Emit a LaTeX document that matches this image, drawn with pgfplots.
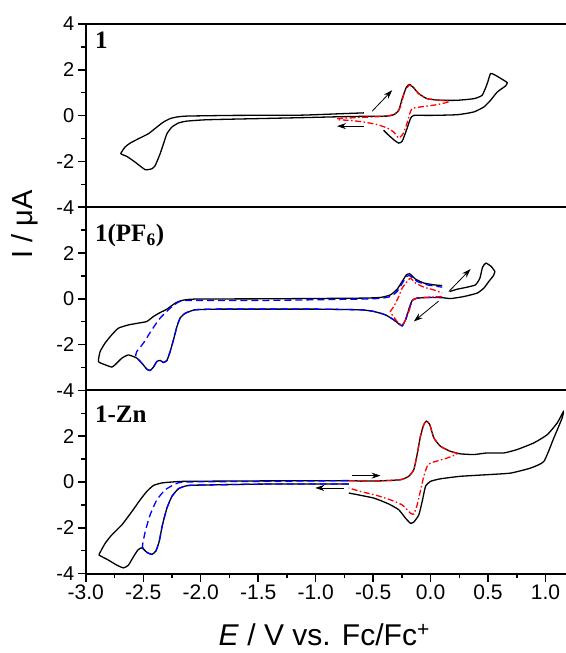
\documentclass[border=0pt]{standalone}
\usepackage{fontspec}
\setmainfont{Liberation Sans}
\newfontfamily\serifbf{Liberation Serif}
\usepackage{pgfplots}
\pgfplotsset{compat=1.18}
\usetikzlibrary{arrows.meta}

\pgfplotsset{
  cvpanel/.style={
    scale only axis, width=479.3pt, height=183pt,
    xmin=-3, xmax=1.175, ymin=-4, ymax=4,
    axis x line*=box, axis y line*=left,
    axis line style={line width=2pt},
    ytick={-4,-2,0,2,4}, minor ytick={-3,-1,1,3},
    ytick pos=left, tick align=outside,
    major tick length=8pt, minor tick length=4.5pt,
    every tick/.style={line width=1.5pt, black},
    yticklabel style={font=\fontsize{20}{20}\selectfont},
    xticklabel style={font=\fontsize{21}{21}\selectfont},
  },
  blk/.style={black, line width=1.3pt, smooth, tension=0.3},
  blu/.style={blue, line width=1.3pt, smooth, tension=0.3, dash pattern=on 7pt off 4pt},
  rdd/.style={red, line width=1.3pt, smooth, tension=0.3, dash pattern=on 6pt off 2.5pt on 1.5pt off 2.5pt},
  arr/.style={black, line width=0.8pt, -{Stealth[length=9pt,width=6pt]}},
}
\tikzset{plab/.style={anchor=base west, inner sep=0pt, font=\serifbf\bfseries\fontsize{25}{25}\selectfont}}

\begin{document}
\begin{tikzpicture}
% ---- panel 1 ----
\begin{axis}[cvpanel, name=p1, xtick=\empty, yticklabels={-4,-2,0,2,4}]
\addplot[blk] coordinates {
 (-0.58,0.12) (-0.8,0.08) (-1.133,0.02) (-1.714,0.01) (-2.12,-0.02) (-2.207,-0.06)
 (-2.266,-0.13) (-2.324,-0.28) (-2.382,-0.50) (-2.455,-0.79) (-2.542,-1.01) (-2.614,-1.20)
 (-2.658,-1.37) (-2.695,-1.66) (-2.643,-1.78) (-2.571,-2.03) (-2.483,-2.36) (-2.425,-2.32)
 (-2.396,-2.18) (-2.353,-1.66) (-2.324,-1.23) (-2.294,-0.79) (-2.251,-0.50) (-2.193,-0.32)
 (-2.12,-0.24) (-1.946,-0.18) (-1.5,-0.13) (-1.133,-0.09) (-0.8,-0.05) (-0.58,-0.03)
 (-0.378,-0.02) (-0.320,0.04) (-0.277,0.23) (-0.247,0.74) (-0.210,1.25) (-0.181,1.36)
 (-0.146,1.21) (-0.103,0.96) (-0.030,0.74) (0.086,0.67) (0.232,0.67) (0.376,0.74)
 (0.449,0.89) (0.493,1.40) (0.522,1.84) (0.565,1.76) (0.638,1.54) (0.667,1.44)
 (0.653,1.30) (0.580,1.03) (0.522,0.67) (0.464,0.38) (0.376,0.16) (0.232,0.04)
 (0.0,0.01) (-0.146,0.01) (-0.175,-0.13) (-0.210,-0.64) (-0.247,-1.12) (-0.277,-1.20)
 (-0.314,-1.08) (-0.364,-0.86) (-0.408,-0.64)
};
\addplot[rdd] coordinates {
 (-0.814,-0.13) (-0.698,-0.10) (-0.523,-0.06) (-0.378,-0.02) (-0.306,0.09) (-0.262,0.38)
 (-0.227,1.03) (-0.186,1.33) (-0.146,1.21) (-0.103,0.96) (-0.03,0.74) (0.086,0.67)
 (0.158,0.66) (0.158,0.60) (0.058,0.48) (-0.088,0.38) (-0.16,0.31) (-0.181,0.09)
 (-0.210,-0.42) (-0.239,-0.79) (-0.277,-0.98) (-0.32,-0.72) (-0.378,-0.54) (-0.465,-0.39)
 (-0.582,-0.28) (-0.698,-0.21) (-0.814,-0.18)
};
\addplot[arr] coordinates {(-0.509,0.19) (-0.334,1.11)};
\addplot[arr] coordinates {(-0.582,-0.46) (-0.814,-0.46)};
\node[plab] at (rel axis cs:0.019,0.869) {1};
\end{axis}
% ---- panel 2 ----
\begin{axis}[cvpanel, name=p2, at={(p1.south west)}, anchor=north west,
  xtick=\empty, yticklabels={-4,-2,0,2,{}},
  ylabel={I / μA},
  ylabel style={font=\fontsize{29}{29}\selectfont, at={(axis description cs:-0.128,0.905)}, anchor=center}]
\addplot[blk] coordinates {
 (0.168,0.32) (0.232,0.42) (0.319,0.51) (0.391,0.61) (0.429,0.90) (0.452,1.38) (0.481,1.56)
 (0.528,1.41) (0.559,1.19) (0.545,1.00) (0.507,0.76) (0.464,0.47) (0.406,0.25) (0.290,0.10)
 (0.174,0.01) (0.101,0.05) (-0.03,0.06) (-0.117,0.03) (-0.16,-0.07) (-0.19,-0.48)
 (-0.218,-0.92) (-0.247,-1.18) (-0.277,-1.09) (-0.32,-0.92) (-0.393,-0.70) (-0.495,-0.55)
 (-0.611,-0.48) (-1.0,-0.45) (-1.437,-0.45) (-1.845,-0.45) (-2.048,-0.48) (-2.135,-0.63)
 (-2.179,-0.84) (-2.207,-1.21) (-2.237,-1.79) (-2.266,-2.30) (-2.294,-2.69) (-2.324,-2.78)
 (-2.353,-2.69) (-2.382,-2.74) (-2.411,-2.98) (-2.44,-3.13) (-2.469,-3.07) (-2.512,-2.81)
 (-2.556,-2.59) (-2.629,-2.45) (-2.686,-2.59) (-2.745,-2.88) (-2.774,-2.98) (-2.832,-2.88)
 (-2.89,-2.74) (-2.875,-2.30) (-2.832,-1.93) (-2.774,-1.57) (-2.716,-1.28) (-2.629,-1.14)
 (-2.542,-1.06) (-2.469,-0.99) (-2.411,-0.77) (-2.353,-0.60) (-2.294,-0.45) (-2.222,-0.19)
 (-2.164,-0.07) (-2.048,-0.01) (-1.437,0.0) (-0.611,0.03) (-0.437,0.06) (-0.35,0.17)
 (-0.291,0.42) (-0.247,0.76) (-0.21,1.05) (-0.181,1.09) (-0.131,0.86) (-0.059,0.69)
 (0.028,0.61) (0.101,0.58)
};
\addplot[blu] coordinates {
 (0.101,0.08) (-0.03,0.06) (-0.117,0.03) (-0.16,-0.07) (-0.19,-0.48) (-0.218,-0.92)
 (-0.247,-1.18) (-0.277,-1.09) (-0.32,-0.92) (-0.393,-0.70) (-0.495,-0.55) (-0.611,-0.48)
 (-1.0,-0.45) (-1.437,-0.45) (-1.845,-0.45) (-2.048,-0.48) (-2.135,-0.63) (-2.179,-0.84)
 (-2.207,-1.21) (-2.237,-1.79) (-2.266,-2.30) (-2.294,-2.69) (-2.324,-2.78) (-2.353,-2.69)
 (-2.382,-2.74) (-2.411,-2.98) (-2.44,-3.13) (-2.469,-3.07) (-2.512,-2.81) (-2.565,-2.52)
 (-2.556,-2.30) (-2.498,-1.93) (-2.425,-1.35) (-2.353,-0.84) (-2.266,-0.41) (-2.193,-0.14)
 (-2.106,-0.07) (-1.437,-0.07) (-0.611,-0.01) (-0.437,0.02) (-0.35,0.10) (-0.291,0.32)
 (-0.21,0.97) (-0.175,1.00) (-0.117,0.76) (-0.03,0.61) (0.101,0.51)
};
\addplot[rdd] coordinates {
 (0.101,0.10) (-0.03,0.06) (-0.117,0.03) (-0.152,-0.04) (-0.175,-0.34) (-0.204,-0.77)
 (-0.233,-1.06) (-0.253,-1.15) (-0.291,-0.99) (-0.334,-0.70) (-0.35,-0.55) (-0.32,-0.34)
 (-0.277,0.10) (-0.247,0.47) (-0.204,0.76) (-0.175,0.90) (-0.131,0.69) (-0.059,0.51)
 (0.028,0.39) (0.101,0.25)
};
\addplot[arr] coordinates {(0.159,0.32) (0.348,1.30)};
\addplot[arr] coordinates {(0.07,-0.10) (-0.146,-0.99)};
\node[plab] at (rel axis cs:0.019,0.812) {1(PF\textsubscript{6})};
\end{axis}
% ---- panel 3 ----
\begin{axis}[cvpanel, name=p3, at={(p2.south west)}, anchor=north west,
  yticklabels={-4,-2,0,2,{}},
  xtick pos=left,
  xtick={-3,-2.5,-2,-1.5,-1,-0.5,0,0.5,1},
  xticklabels={-3.0,-2.5,-2.0,-1.5,-1.0,-0.5,0.0,0.5,1.0},
  minor xtick={-2.75,-2.25,-1.75,-1.25,-0.75,-0.25,0.25,0.75},
  xlabel={\textit{E} / V vs. Fc/Fc\textsuperscript{+}},
  xlabel style={font=\fontsize{30}{30}\selectfont, at={(axis description cs:0.497,-0.395)}, anchor=base}]
\addplot[blk] coordinates {
 (-0.712,-0.09) (-1.437,-0.09) (-1.845,-0.12) (-2.106,-0.15) (-2.193,-0.29) (-2.251,-0.63)
 (-2.294,-1.14) (-2.333,-1.87) (-2.362,-2.61) (-2.390,-3.01) (-2.425,-3.16) (-2.469,-3.07)
 (-2.512,-2.87) (-2.547,-2.97) (-2.585,-3.26) (-2.629,-3.63) (-2.672,-3.75) (-2.730,-3.63)
 (-2.803,-3.41) (-2.884,-3.19) (-2.875,-3.07) (-2.832,-2.68) (-2.774,-2.31) (-2.686,-1.87)
 (-2.599,-1.29) (-2.527,-0.78) (-2.469,-0.41) (-2.411,-0.15) (-2.338,-0.04) (-2.251,0.0)
 (-2.135,0.03) (-1.437,0.05) (-0.712,0.06) (-0.611,0.04) (-0.437,0.05) (-0.262,0.10)
 (-0.19,0.25) (-0.146,0.54) (-0.117,1.20) (-0.088,2.00) (-0.059,2.51) (-0.036,2.66)
 (-0.007,2.51) (0.028,1.93) (0.086,1.56) (0.173,1.34) (0.261,1.23) (0.377,1.20)
 (0.493,1.27) (0.638,1.27) (0.754,1.42) (0.899,1.71) (1.016,2.07) (1.103,2.59)
 (1.155,3.07) (1.146,2.81) (1.073,1.93) (0.986,0.90) (0.870,0.61) (0.696,0.39)
 (0.493,0.32) (0.261,0.25) (0.086,0.14) (0.0,0.03) (-0.044,-0.19) (-0.073,-0.85)
 (-0.102,-1.43) (-0.146,-1.75) (-0.175,-1.80) (-0.218,-1.58) (-0.277,-1.21) (-0.364,-0.96)
 (-0.495,-0.70) (-0.712,-0.48)
};
\addplot[blu] coordinates {
 (-0.712,-0.09) (-1.437,-0.09) (-1.845,-0.12) (-2.106,-0.15) (-2.193,-0.29) (-2.251,-0.63)
 (-2.294,-1.14) (-2.333,-1.87) (-2.362,-2.61) (-2.390,-3.01) (-2.425,-3.16) (-2.469,-3.07)
 (-2.507,-2.82) (-2.483,-2.17) (-2.44,-1.43) (-2.382,-0.78) (-2.309,-0.34) (-2.222,-0.09)
 (-2.135,0.0) (-1.437,0.03) (-0.712,0.06)
};
\addplot[rdd] coordinates {
 (-0.712,0.06) (-0.611,0.04) (-0.437,0.05) (-0.262,0.10) (-0.19,0.25) (-0.146,0.54)
 (-0.117,1.20) (-0.088,2.00) (-0.059,2.51) (-0.036,2.66) (-0.007,2.51) (0.028,1.93)
 (0.086,1.56) (0.173,1.34) (0.232,1.23) (0.145,1.05) (0.0,0.83) (-0.03,0.68)
 (-0.059,0.25) (-0.088,-0.38) (-0.117,-1.00) (-0.146,-1.40) (-0.175,-1.36) (-0.247,-1.00)
 (-0.349,-0.78) (-0.465,-0.59) (-0.611,-0.41) (-0.712,-0.26)
};
\addplot[arr] coordinates {(-0.683,0.28) (-0.436,0.28)};
\addplot[arr] coordinates {(-0.756,-0.26) (-1.003,-0.26)};
\node[plab] at (rel axis cs:0.019,0.823) {1-Zn};
\end{axis}
\pgfresetboundingbox
\path[use as bounding box] ([xshift=-85.7pt,yshift=24pt]p1.north west) rectangle ([yshift=-79.3pt]p3.south east);
\end{tikzpicture}
\end{document}
